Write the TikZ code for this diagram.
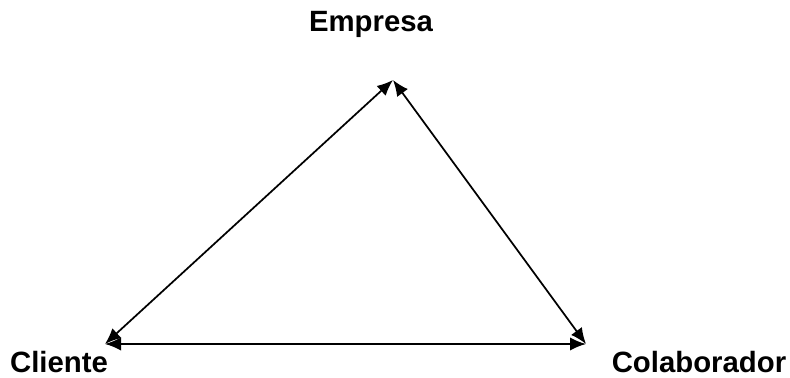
\documentclass[tikz,border=0pt]{standalone}
\usepackage{fontspec}
\setmainfont{Liberation Sans}
\usetikzlibrary{arrows.meta}
\begin{document}
\begin{tikzpicture}[x=0.75pt, y=-0.75pt, every node/.style={font=\bfseries\fontsize{22}{26}\selectfont, inner sep=0pt, anchor=base, text depth=0pt},
  link/.style={{Latex[length=12pt,width=10pt]}-{Latex[length=12pt,width=10pt]}, line width=1.3pt}]
\useasboundingbox (0,0) rectangle (790,378);
% corners of the triangle
\coordinate (top) at (393,80);
\coordinate (left) at (105,344);
\coordinate (right) at (586,344);
\node (empresa) at (371,32) {Empresa};
\node (cliente) at (59,372) {Cliente};
\node (colab) at (699,372) {Colaborador};
\draw[link] (left) -- (top);
\draw[link] (top) -- (right);
\draw[link] (left) -- (right);
\end{tikzpicture}
\end{document}
